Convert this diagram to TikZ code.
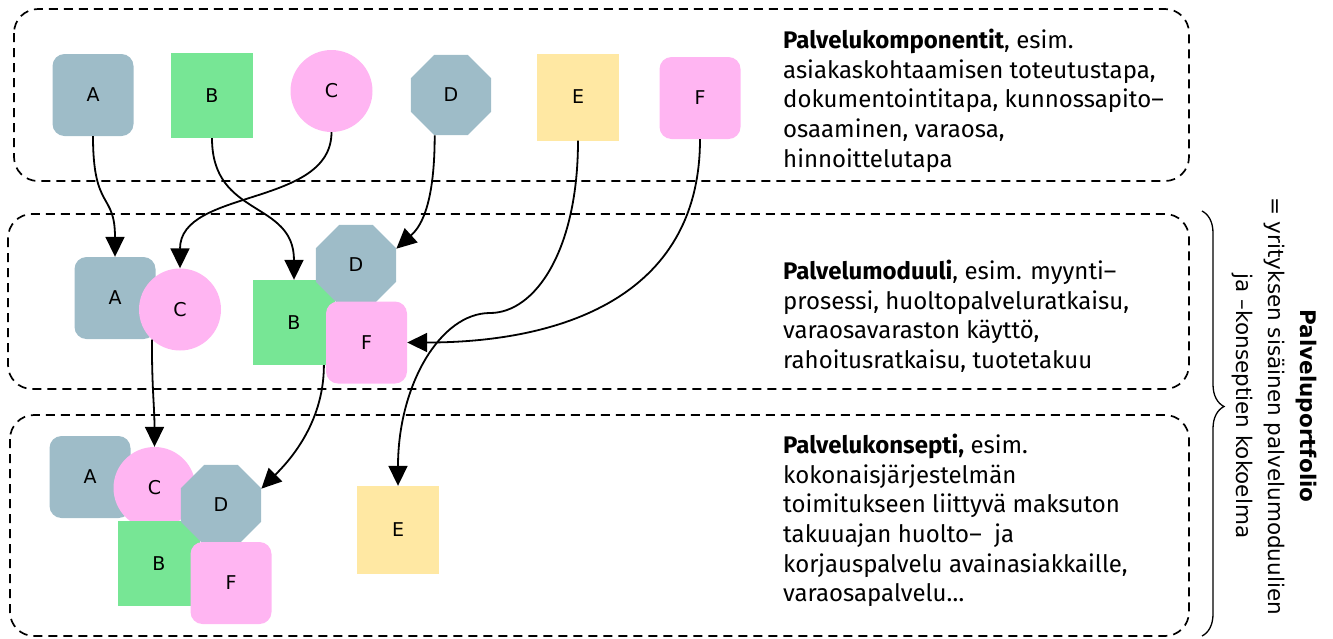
\documentclass[tikz,border=0pt]{standalone}
\usepackage{fontspec}
\setmainfont{Fira Sans}
\newfontfamily\lblfont{DejaVu Sans}
\newfontfamily\sidefont{DejaVu Sans}
\usetikzlibrary{shapes.geometric,arrows.meta,decorations.pathreplacing}
\definecolor{slateblue}{HTML}{9EBCC8}
\definecolor{mintgreen}{HTML}{77E695}
\definecolor{softpink}{HTML}{FFB5F2}
\definecolor{paleyellow}{HTML}{FFE8A3}
\begin{document}
\begin{tikzpicture}[x=1pt,y=-1pt,
  comp/.style={inner sep=0pt, font=\lblfont\fontsize{19}{22}\selectfont, text=black},
  rsq/.style={comp, rectangle, rounded corners=12pt, minimum width=81pt, minimum height=82pt},
  sq/.style={comp, rectangle, minimum width=82pt, minimum height=85pt},
  circ/.style={comp, circle, minimum size=82pt},
  oct/.style={comp, regular polygon, regular polygon sides=8, minimum size=87pt},
  panel/.style={draw, line width=1.7pt, dash pattern=on 9pt off 6pt, rounded corners=24pt},
  link/.style={line width=1.8pt, -{Triangle[length=20pt,width=19pt]}},
  desc/.style={anchor=north west, inner sep=0pt, align=left, font=\fontsize{24}{29.6}\selectfont},
  bracestyle/.style={line width=1.3pt, decorate, decoration={brace, amplitude=22pt, aspect=0.46}}
]
\useasboundingbox (0,0) rectangle (1333,638);

% dashed level frames
\draw[panel] (14,9) rectangle (1189,181);
\draw[panel] (8,214) rectangle (1189,389);
\draw[panel] (10,415) rectangle (1189,636);

% level 1: components
\node[rsq, fill=slateblue] (tA) at (93,95) {A};
\node[sq, fill=mintgreen] (tB) at (212,95.5) {B};
\node[circ, fill=softpink] (tC) at (331.5,91) {C};
\node[oct, fill=slateblue] (tD) at (451,95) {D};
\node[sq, fill=paleyellow, minimum height=87pt] (tE) at (578,97) {E};
\node[rsq, fill=softpink] (tF) at (700,98) {F};

% level 2: modules
\node[rsq, fill=slateblue] (mA) at (115,298) {A};
\node[circ, fill=softpink] (mC) at (180,309.5) {C};
\node[sq, fill=mintgreen] (mB) at (294,322.5) {B};
\node[oct, fill=slateblue] (mD) at (356,265) {D};
\node[rsq, fill=softpink] (mF) at (366.5,342.5) {F};

% level 3: concept
\node[rsq, fill=slateblue] (bA) at (90,477) {A};
\node[circ, fill=softpink] (bC) at (154.5,488) {C};
\node[sq, fill=mintgreen] (bB) at (159,563.5) {B};
\node[oct, fill=slateblue] (bD) at (221,505) {D};
\node[rsq, fill=softpink] (bF) at (231,583) {F};
\node[sq, fill=paleyellow, minimum height=88pt] (bE) at (398,530) {E};

% connectors
\draw[link] (tA.south) .. controls +(0,75) and +(0,-65) .. (mA.north);
\draw[link] (tB.south) .. controls +(0,80) and +(0,-80) .. (mB.north);
\draw[link] (tC.south) .. controls +(0,75) and +(0,-80) .. (mC.north);
\draw[link] (tD.-112.5) .. controls +(0,75) and +(22,-20) .. (mD.22.5);
\draw[link] (tE.south) .. controls +(0,110) and +(45,0) .. (490,313)
                       .. controls +(-50,0) and +(0,-100) .. (bE.north);
\draw[link] (tF.south) .. controls +(0,160) and +(150,0) .. (mF.east);
\draw[link] (mC.-133) .. controls +(0,50) and +(0,-40) .. (bC.north);
\draw[link] (mB.-55) .. controls +(0,60) and +(25,-25) .. (bD.22.5);

% descriptions
\node[desc] (txtTop) at (783,29) {\textbf{Palvelukomponentit}, esim.\\asiakaskohtaamisen toteutustapa,\\dokumentointitapa, kunnossapito–\\osaaminen, varaosa,\\hinnoittelutapa};
\node[desc] (txtMid) at (783,260) {\textbf{Palvelumoduuli}, esim. myynti–\\prosessi, huoltopalveluratkaisu,\\varaosavaraston käyttö,\\rahoitusratkaisu, tuotetakuu};
\node[desc] (txtBot) at (783,434) {\textbf{Palvelukonsepti,} esim.\\kokonaisjärjestelmän\\toimitukseen liittyvä maksuton\\takuuajan huolto–\ \ ja\\korjauspalvelu avainasiakkaille,\\varaosapalvelu…};

% portfolio brace and caption
\coordinate (braceTop) at (1202,211);
\coordinate (braceBot) at (1202,636);
\draw[bracestyle] (braceTop) -- (braceBot);
\node[rotate=-90, align=center, inner sep=0pt, font=\sidefont\fontsize{21.5}{32}\selectfont] (portfolio) at (1274,406)
  {\textbf{Palveluportfolio}\\= yrityksen sisäinen palvelumoduulien\\ja –konseptien kokoelma};
\end{tikzpicture}
\end{document}
